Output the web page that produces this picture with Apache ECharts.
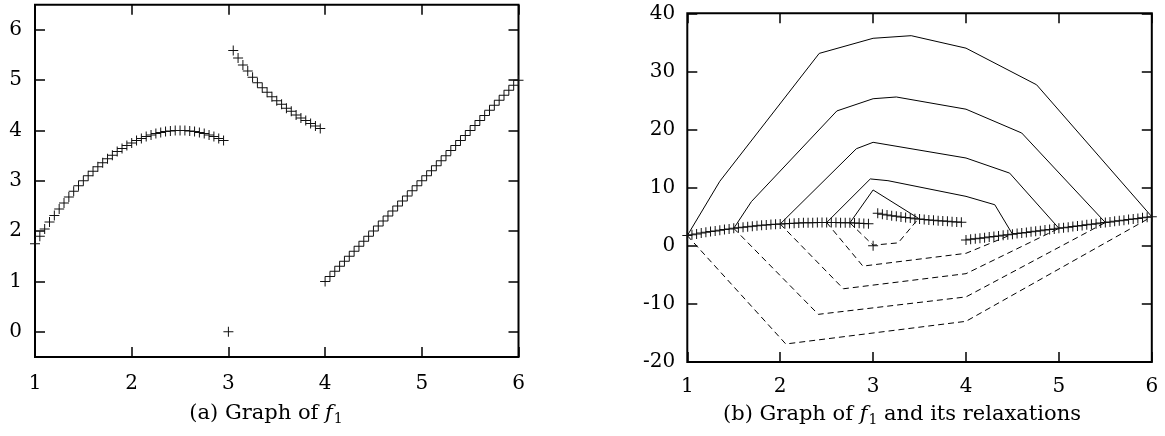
<!DOCTYPE html>
<html><head><meta charset="utf-8">
<script src="https://cdn.jsdelivr.net/npm/echarts@6/dist/echarts.min.js"></script>
<style>html,body{margin:0;padding:0;background:#fff}#c{width:1165px;height:436px}</style>
</head><body><div id="c"></div>
<script>
// ---- data ----
const xSeg1 = [1.00,1.05,1.10,1.15,1.20,1.25,1.30,1.35,1.40,1.45,1.50,1.55,1.60,1.65,1.70,1.75,1.80,1.85,1.90,1.95,2.00,2.05,2.10,2.15,2.20,2.25,2.30,2.35,2.40,2.45,2.50,2.55,2.60,2.65,2.70,2.75,2.80,2.85,2.90,2.95];
const ySeg1 = [1.75,1.90,2.04,2.18,2.31,2.44,2.56,2.68,2.79,2.90,3.00,3.10,3.19,3.28,3.36,3.44,3.51,3.58,3.64,3.70,3.75,3.80,3.84,3.88,3.91,3.94,3.96,3.98,3.99,4.00,4.00,4.00,3.99,3.98,3.96,3.94,3.91,3.88,3.84,3.80];
const xSeg2 = [3.05,3.10,3.15,3.20,3.25,3.30,3.35,3.40,3.45,3.50,3.55,3.60,3.65,3.70,3.75,3.80,3.85,3.90,3.95];
const ySeg2 = [5.59,5.44,5.30,5.18,5.06,4.95,4.85,4.76,4.67,4.59,4.52,4.44,4.38,4.31,4.25,4.20,4.14,4.09,4.04];
const xSeg3 = [4.00,4.05,4.10,4.15,4.20,4.25,4.30,4.35,4.40,4.45,4.50,4.55,4.60,4.65,4.70,4.75,4.80,4.85,4.90,4.95,5.00,5.05,5.10,5.15,5.20,5.25,5.30,5.35,5.40,5.45,5.50,5.55,5.60,5.65,5.70,5.75,5.80,5.85,5.90,5.95,6.00];
const ySeg3 = [1.0,1.1,1.2,1.3,1.4,1.5,1.6,1.7,1.8,1.9,2.0,2.1,2.2,2.3,2.4,2.5,2.6,2.7,2.8,2.9,3.0,3.1,3.2,3.3,3.4,3.5,3.6,3.7,3.8,3.9,4.0,4.1,4.2,4.3,4.4,4.5,4.6,4.7,4.8,4.9,5.0];
const xIso = [3.0];
const yIso = [0.0];

// relaxations (right panel): upper (solid) and lower (dashed) polylines
const upper1 = [[1,1.75],[1.35,11.1],[2.42,33.1],[3.0,35.7],[3.41,36.15],[4.0,34.0],[4.76,27.7],[6,5]];
const upper2 = [[1.5,3.0],[1.69,7.6],[2.61,23.2],[3.0,25.3],[3.25,25.6],[4.0,23.5],[4.6,19.4],[5.5,4.0]];
const upper3 = [[2.0,3.75],[2.82,16.7],[3.0,17.8],[4.0,15.1],[4.47,12.5],[5.0,3.0]];
const upper4 = [[2.5,4.0],[2.97,11.5],[3.16,11.2],[4.0,8.5],[4.31,7.06],[4.5,2.0]];
const upper5 = [[2.75,3.94],[3.0,9.6],[3.49,4.7]];
const lower1 = [[1,1.75],[2.06,-16.9],[4.0,-13.0],[6,5]];
const lower2 = [[1.5,3.0],[2.41,-11.8],[4.0,-8.8],[5.5,4.0]];
const lower3 = [[2.0,3.75],[2.68,-7.4],[4.0,-4.8],[5.0,3.0]];
const lower4 = [[2.5,4.0],[2.89,-3.5],[4.0,-1.3],[4.5,2.0]];
const lower5 = [[2.75,3.94],[3.0,0.1],[3.27,0.5],[3.49,4.7]];

const yTicksA = [0,1,2,3,4,5,6];
const captionA = ['(a) Graph of ', 'f', '1', ''];
const captionB = ['(b) Graph of ', 'f', '1', ' and its relaxations'];

// ---- build ----
const zip = (xs, ys) => xs.map((x, i) => [x, ys[i]]);
const f1 = [].concat(zip(xSeg1, ySeg1), zip(xSeg2, ySeg2), zip(xSeg3, ySeg3), zip(xIso, yIso));

const FONT = 'DejaVu Serif';
const FS = 20;
const CFS = 21;
const PLUS = 'path://M4.5,0H5.5V4.5H10V5.5H5.5V10H4.5V5.5H0V4.5H4.5Z';
const tickStyle = {show: true, inside: true, length: 10, lineStyle: {color: '#000', width: 1.5}};
const labelStyle = {color: '#000', fontFamily: FONT, fontSize: FS};
const noLine = {show: false, onZero: false};

function xAxes(grid, bottomMargin) {
  return [
    {type: 'value', gridIndex: grid, position: 'bottom', min: 1, max: 6, interval: 1,
     axisLine: noLine, splitLine: {show: false}, axisTick: tickStyle,
     axisLabel: Object.assign({margin: bottomMargin}, labelStyle)},
    {type: 'value', gridIndex: grid, position: 'top', min: 1, max: 6, interval: 1,
     axisLine: noLine, splitLine: {show: false}, axisTick: tickStyle, axisLabel: {show: false}}
  ];
}

const chart = echarts.init(document.getElementById('c'), null, {renderer: 'canvas'});
const option = {
  animation: false,
  backgroundColor: '#fff',
  grid: [
    {left: 35, top: 4.7, width: 483.5, height: 352.2, show: true, borderColor: '#000', borderWidth: 2, backgroundColor: 'transparent', containLabel: false},
    {left: 687.3, top: 13.3, width: 464.5, height: 348.7, show: true, borderColor: '#000', borderWidth: 2, backgroundColor: 'transparent', containLabel: false}
  ],
  xAxis: [].concat(xAxes(0, 17), xAxes(1, 15)),
  yAxis: [
    {type: 'value', gridIndex: 0, position: 'left', min: -0.5, max: 6.5,
     axisLine: noLine, splitLine: {show: false},
     axisTick: Object.assign({customValues: yTicksA}, tickStyle),
     axisLabel: Object.assign({margin: 13, customValues: yTicksA}, labelStyle)},
    {type: 'value', gridIndex: 0, position: 'right', min: -0.5, max: 6.5,
     axisLine: noLine, splitLine: {show: false},
     axisTick: Object.assign({customValues: yTicksA}, tickStyle), axisLabel: {show: false}},
    {type: 'value', gridIndex: 1, position: 'left', min: -20, max: 40, interval: 10,
     axisLine: noLine, splitLine: {show: false}, axisTick: tickStyle,
     axisLabel: Object.assign({margin: 12}, labelStyle)},
    {type: 'value', gridIndex: 1, position: 'right', min: -20, max: 40, interval: 10,
     axisLine: noLine, splitLine: {show: false}, axisTick: tickStyle, axisLabel: {show: false}}
  ],
  series: []
};

const lineSeries = (data, dashed) => ({
  type: 'line', xAxisIndex: 2, yAxisIndex: 2, data: data, showSymbol: false, symbol: 'none',
  clip: false, silent: true, z: 2,
  lineStyle: {color: '#000', width: 1, type: dashed ? [6, 4] : 'solid'}
});
[upper1, upper2, upper3, upper4, upper5].forEach(d => option.series.push(lineSeries(d, false)));
[lower1, lower2, lower3, lower4, lower5].forEach(d => option.series.push(lineSeries(d, true)));

const scatterSeries = (xi, yi) => ({
  type: 'scatter', xAxisIndex: xi, yAxisIndex: yi, data: f1, symbol: PLUS, symbolSize: 10,
  clip: false, silent: true, z: 5, itemStyle: {color: '#111', opacity: 1}
});
option.series.push(scatterSeries(0, 0));
option.series.push(scatterSeries(2, 2));

function caption(x, y, parts) {
  return {
    type: 'text', x: x, y: y, z: 10,
    style: {
      text: '{n|' + parts[0] + '}{i|' + parts[1] + '}{s|' + parts[2] + '}' + (parts[3] ? '{n|' + parts[3] + '}' : ''),
      align: 'center', verticalAlign: 'middle', fill: '#000',
      rich: {
        n: {fontFamily: FONT, fontSize: CFS, lineHeight: 24, fill: '#000'},
        i: {fontFamily: FONT, fontSize: CFS, fontStyle: 'italic', lineHeight: 24, fill: '#000'},
        s: {fontFamily: FONT, fontSize: 14, lineHeight: 14, padding: [10, 0, 0, 1], fill: '#000'}
      }
    }
  };
}
option.graphic = [caption(266, 414, captionA), caption(902, 415, captionB)];

chart.setOption(option);
</script></body></html>
